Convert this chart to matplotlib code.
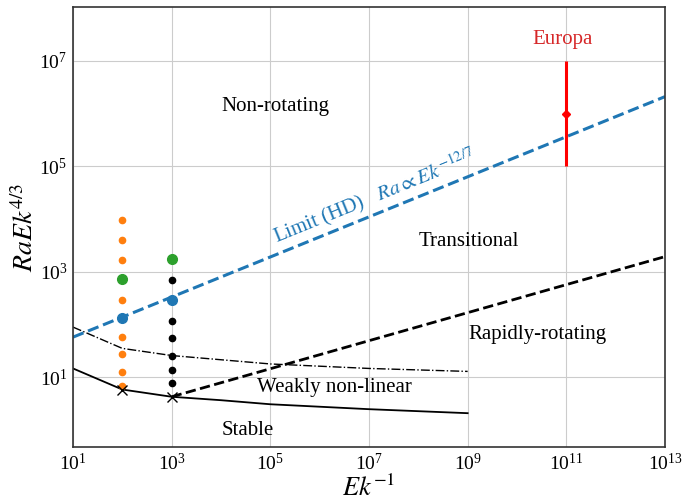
import numpy as np
import matplotlib
matplotlib.use("Agg")
import matplotlib.pyplot as plt

plt.rcParams["font.family"] = ["Liberation Serif", "DejaVu Serif"]
plt.rcParams["mathtext.fontset"] = "stix"

# simulations at Ek^-1 = 1e2 and 1e3
orange_x = [1e2] * 8
orange_y = [9500, 4100, 1660, 295, 58, 27.5, 12.9, 6.9]
green_x  = [1e2, 1e3]
green_y  = [720, 1780]
blue_x   = [1e2, 1e3]
blue_y   = [132, 295]
black_x  = [1e3] * 6
black_y  = [690, 117, 55, 26, 13.8, 7.7]

# regime boundaries
stable_x = [1e1, 1e2, 1e3, 1e4, 1e5, 1e7, 1e9]
stable_y = [14.8, 5.9, 4.3, 3.7, 3.1, 2.5, 2.1]
weak_x   = [1e1, 1e2, 1e3, 1e5, 1e7, 1e9]
weak_y   = [90, 35.5, 26, 18, 14.8, 13]
onset_x  = [1e2, 1e3]
onset_y  = [5.9, 4.3]
rapid_x  = [1e3, 1e13]
rapid_y  = [4.3, 1950]
hd_x     = [1e1, 1e13]
hd_y     = [58, 2.1e6]

# Europa estimate
europa_x   = 1e11
europa_y   = 1e6
europa_err = [[1e6 - 1e5], [1e7 - 1e6]]

fig = plt.figure(figsize=(6.84, 5.0), dpi=100)
ax = fig.add_axes([0.1067, 0.106, 0.8655, 0.880])
ax.set_xscale("log")
ax.set_yscale("log")

ax.plot(stable_x, stable_y, color="black", lw=1.3)
ax.plot(weak_x, weak_y, color="black", lw=1.0, ls="-.")
ax.plot(rapid_x, rapid_y, color="black", lw=2.0, ls="--")
ax.plot(hd_x, hd_y, color="#1f77b4", lw=2.2, ls="--")

ax.plot(orange_x, orange_y, "o", color="#ff7f0e", ms=4.5, ls="none")
ax.plot(black_x, black_y, "o", color="black", ms=4.5, ls="none")
ax.plot(green_x, green_y, "o", color="#2ca02c", ms=7, ls="none")
ax.plot(blue_x, blue_y, "o", color="#1f77b4", ms=7, ls="none")
ax.plot(onset_x, onset_y, "x", color="black", ms=7, mew=1.0, ls="none", zorder=5)

ax.errorbar(europa_x, europa_y, yerr=europa_err, fmt="D", color="red",
            ms=4, lw=2.2, capsize=0)
ax.text(10**10.92, 10**7.4, "Europa", color="#d62728", fontsize=15,
        ha="center", va="center")

ax.text(10**5.1, 10**6.13, "Non-rotating", fontsize=15, ha="center", va="center")
ax.text(10**9.03, 10**3.58, "Transitional", fontsize=15, ha="center", va="center")
ax.text(10**10.41, 10**1.81, "Rapidly-rotating", fontsize=15, ha="center", va="center")
ax.text(10**6.29, 10**0.81, "Weakly non-linear", fontsize=15, ha="center", va="center")
ax.text(10**4.55, 10**0.0, "Stable", fontsize=15, ha="center", va="center")

ax.set_xlim(1e1, 1e13)
ax.set_ylim(0.48, 1.05e8)

# rotate HD label along the line
p0 = ax.transData.transform((hd_x[0], hd_y[0]))
p1 = ax.transData.transform((hd_x[1], hd_y[1]))
angle = np.degrees(np.arctan2(p1[1] - p0[1], p1[0] - p0[0]))
ax.text(10**5.12, 10**3.55, r"Limit (HD)   $Ra \propto Ek^{-12/7}$",
        color="#1f77b4", fontsize=15, rotation=angle,
        rotation_mode="anchor", ha="left", va="baseline")

ax.set_xticks([10.0**k for k in range(1, 14, 2)])
ax.set_yticks([10.0**k for k in range(1, 8, 2)])
ax.minorticks_off()
ax.grid(True, color="#cccccc", lw=0.8)
ax.tick_params(labelsize=14, length=0, pad=4)
for s in ax.spines.values():
    s.set_linewidth(1.2)
    s.set_color("#333333")

ax.set_xlabel(r"$Ek^{-1}$", fontsize=19, labelpad=1)
ax.set_ylabel(r"$RaEk^{4/3}$", fontsize=20, labelpad=0)

fig.savefig("out.png", dpi=100)
